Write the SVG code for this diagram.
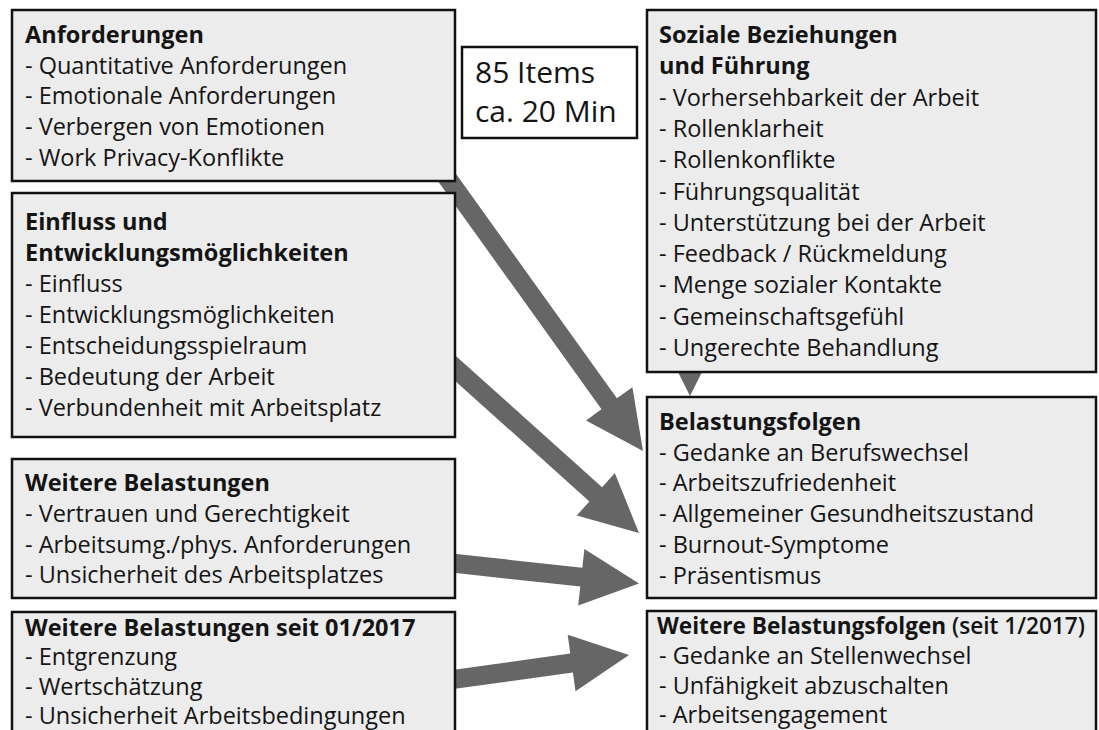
<svg xmlns="http://www.w3.org/2000/svg" width="1099" height="730" viewBox="0 0 1099 730">
<style>
  .box { fill: #ececec; stroke: #111; stroke-width: 2.5; }
  .plain { fill: #ffffff; stroke: #111; stroke-width: 2.5; }
  .arrow { fill: #666666; stroke: none; }
  text { font-family: "Open Sans", "Noto Sans", "Liberation Sans", sans-serif; font-size: 23.5px; fill: #141414; }
  .t { font-weight: bold; }
  .big { font-size: 30px; }
</style>
<rect x="0" y="0" width="1099" height="730" fill="#ffffff"/>
<g id="connectors">
  <polygon class="arrow" points="440.7,152.5 616.9,398.3 632.4,387.2 643,451 586.0,420.4 601.5,409.3 425.3,163.5"/>
  <polygon class="arrow" points="436.3,338.5 602.1,487.2 614.8,473.1 639,533 576.8,515.5 589.4,501.4 423.7,352.7"/>
  <polygon class="arrow" points="431.0,551.2 582.3,567.8 584.4,548.9 639,583.5 578.2,605.5 580.3,586.6 429.0,570.0"/>
  <polygon class="arrow" points="428.7,673.3 570.3,653.6 567.7,634.8 629,655 575.5,691.2 572.9,672.4 431.3,692.1"/>
  <polygon class="arrow" points="678,372 702,372 690,396"/>
</g>
<g id="anforderungen">
  <rect class="box" x="12" y="10" width="443" height="171"/>
  <text x="25" y="43" class="t">Anforderungen</text>
  <text x="25" y="74">- Quantitative Anforderungen</text>
  <text x="25" y="104">- Emotionale Anforderungen</text>
  <text x="25" y="135">- Verbergen von Emotionen</text>
  <text x="25" y="166">- Work Privacy-Konflikte</text>
</g>
<g id="items">
  <rect class="plain" x="462" y="47" width="175" height="91"/>
  <text x="475" y="83" class="big">85 Items</text>
  <text x="475" y="122" class="big">ca. 20 Min</text>
</g>
<g id="einfluss">
  <rect class="box" x="12" y="193" width="443" height="244"/>
  <text x="25" y="230" class="t">Einfluss und</text>
  <text x="25" y="261" class="t">Entwicklungsmöglichkeiten</text>
  <text x="25" y="292">- Einfluss</text>
  <text x="25" y="323">- Entwicklungsmöglichkeiten</text>
  <text x="25" y="354">- Entscheidungsspielraum</text>
  <text x="25" y="385">- Bedeutung der Arbeit</text>
  <text x="25" y="416">- Verbundenheit mit Arbeitsplatz</text>
</g>
<g id="weitere-belastungen">
  <rect class="box" x="12" y="459" width="443" height="139"/>
  <text x="25" y="491" class="t">Weitere Belastungen</text>
  <text x="25" y="522">- Vertrauen und Gerechtigkeit</text>
  <text x="25" y="553">- Arbeitsumg./phys. Anforderungen</text>
  <text x="25" y="583">- Unsicherheit des Arbeitsplatzes</text>
</g>
<g id="weitere-belastungen-2017">
  <rect class="box" x="12" y="612" width="443" height="130"/>
  <text x="25" y="636" class="t">Weitere Belastungen seit 01/2017</text>
  <text x="25" y="665">- Entgrenzung</text>
  <text x="25" y="695">- Wertschätzung</text>
  <text x="25" y="724">- Unsicherheit Arbeitsbedingungen</text>
</g>
<g id="soziale-beziehungen">
  <rect class="box" x="647" y="10" width="449" height="362"/>
  <text x="659" y="43" class="t">Soziale Beziehungen</text>
  <text x="659" y="74" class="t">und Führung</text>
  <text x="659" y="106">- Vorhersehbarkeit der Arbeit</text>
  <text x="659" y="137">- Rollenklarheit</text>
  <text x="659" y="168">- Rollenkonflikte</text>
  <text x="659" y="200">- Führungsqualität</text>
  <text x="659" y="231">- Unterstützung bei der Arbeit</text>
  <text x="659" y="262">- Feedback / Rückmeldung</text>
  <text x="659" y="293">- Menge sozialer Kontakte</text>
  <text x="659" y="325">- Gemeinschaftsgefühl</text>
  <text x="659" y="356">- Ungerechte Behandlung</text>
</g>
<g id="belastungsfolgen">
  <rect class="box" x="647" y="397" width="449" height="201"/>
  <text x="659" y="430" class="t">Belastungsfolgen</text>
  <text x="659" y="461">- Gedanke an Berufswechsel</text>
  <text x="659" y="491">- Arbeitszufriedenheit</text>
  <text x="659" y="522">- Allgemeiner Gesundheitszustand</text>
  <text x="659" y="553">- Burnout-Symptome</text>
  <text x="659" y="584">- Präsentismus</text>
</g>
<g id="weitere-belastungsfolgen">
  <rect class="box" x="647" y="611" width="449" height="131"/>
  <text x="657" y="634" class="t" style="font-size:22.6px">Weitere Belastungsfolgen <tspan font-weight="600">(seit 1/2017)</tspan></text>
  <text x="659" y="664">- Gedanke an Stellenwechsel</text>
  <text x="659" y="694">- Unfähigkeit abzuschalten</text>
  <text x="659" y="723">- Arbeitsengagement</text>
</g>
</svg>
